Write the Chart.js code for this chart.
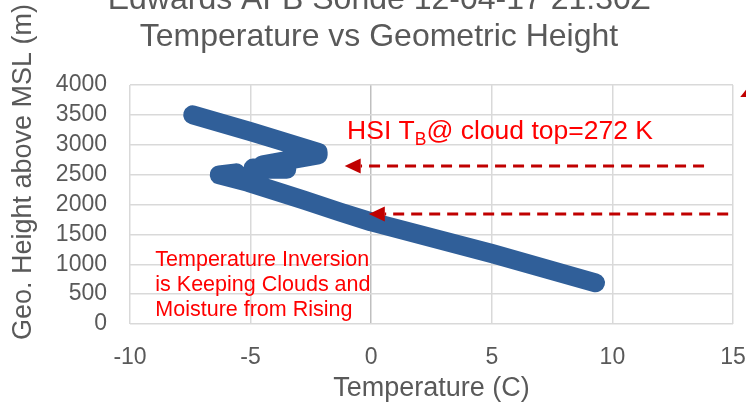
<!DOCTYPE html>
<html>
<head>
<meta charset="utf-8">
<title>Edwards AFB Sonde – Temperature vs Geometric Height</title>
<script src="https://cdn.jsdelivr.net/npm/chart.js@4/dist/chart.umd.min.js"></script>
<style>
  html, body { margin: 0; padding: 0; background: #ffffff; }
  #wrap { width: 746px; height: 403px; position: relative; }
</style>
</head>
<body>
<div id="wrap"><canvas id="sonde" width="746" height="403"></canvas></div>
<script>
// Sounding profile (temperature in C, geometric height in m MSL), ground upward.
// null marks the short break in the record inside the inversion layer.
const temperatureC = [9.3, 5.0, 0.0, -1.3, -2.8, -5.1, -6.3, -5.6, null,
                      -4.9, -4.2, -3.5, -4.5, -3.3, -2.6, -2.2, -2.2, -5.0, -7.4];
const heightM      = [690, 1180, 1710, 1875, 2075, 2370, 2495, 2530, null,
                      2610, 2590, 2590, 2665, 2750, 2800, 2830, 2875, 3220, 3500];

// Axis ticks
const xTicks = [-10, -5, 0, 5, 10, 15];
const yTicks = [0, 500, 1000, 1500, 2000, 2500, 3000, 3500, 4000];

// Dashed call-out arrows: tail temperature, head temperature, height
const arrowFromC   = [13.8, 14.8];
const arrowToC     = [-1.1, -0.1];
const arrowHeightM = [2645, 1840];

const FONT = '"Liberation Sans", Arial, Helvetica, sans-serif';
const GREY = '#595959';

const points = temperatureC.map((t, i) => (t === null ? { x: null, y: null } : { x: t, y: heightM[i] }));

const annotations = {
  id: 'annotations',
  beforeDraw(chart) {
    const { ctx } = chart;
    ctx.save();
    ctx.fillStyle = '#ffffff';
    ctx.fillRect(0, 0, chart.width, chart.height);
    ctx.restore();
  },
  afterDatasetsDraw(chart) {
    const { ctx, scales: { x, y } } = chart;
    ctx.save();

    // dashed arrows pointing at the inversion
    ctx.strokeStyle = '#C00000';
    ctx.fillStyle = '#C00000';
    ctx.lineWidth = 3;
    for (let i = 0; i < arrowFromC.length; i++) {
      const x0 = x.getPixelForValue(arrowFromC[i]);
      const x1 = x.getPixelForValue(arrowToC[i]);
      const yy = y.getPixelForValue(arrowHeightM[i]);
      ctx.setLineDash([11, 7]);
      ctx.beginPath();
      ctx.moveTo(x0, yy);
      ctx.lineTo(x1 + 16, yy);
      ctx.stroke();
      ctx.setLineDash([]);
      ctx.beginPath();
      ctx.moveTo(x1, yy);
      ctx.lineTo(x1 + 16, yy - 7.5);
      ctx.lineTo(x1 + 16, yy + 7.5);
      ctx.closePath();
      ctx.fill();
    }

    // arrow head at the upper right corner
    ctx.beginPath();
    ctx.moveTo(x.getPixelForValue(15.3), y.getPixelForValue(3800));
    ctx.lineTo(x.getPixelForValue(15.9), y.getPixelForValue(3800));
    ctx.lineTo(x.getPixelForValue(15.75), y.getPixelForValue(4030));
    ctx.closePath();
    ctx.fill();

    // brightness temperature label
    ctx.fillStyle = '#FF0000';
    ctx.textBaseline = 'alphabetic';
    ctx.textAlign = 'left';
    let tx = x.getPixelForValue(-1.0);
    const ty = y.getPixelForValue(3095);
    ctx.font = '26.5px ' + FONT;
    ctx.fillText('HSI T', tx, ty);
    tx += ctx.measureText('HSI T').width;
    ctx.font = '17.5px ' + FONT;
    ctx.fillText('B', tx, ty + 6);
    tx += ctx.measureText('B').width;
    ctx.font = '26.5px ' + FONT;
    ctx.fillText('@ cloud top=272 K', tx, ty);

    // inversion note
    ctx.font = '21.5px ' + FONT;
    const lx = x.getPixelForValue(-8.95);
    const ly = y.getPixelForValue(975);
    ['Temperature Inversion', 'is Keeping Clouds and', 'Moisture from Rising']
      .forEach((s, k) => ctx.fillText(s, lx, ly + k * 25));
    ctx.restore();
  },
  afterDraw(chart) {
    const { ctx, chartArea } = chart;
    ctx.save();
    ctx.fillStyle = GREY;
    ctx.textAlign = 'center';
    ctx.textBaseline = 'alphabetic';

    // chart title (two lines)
    ctx.font = '32px ' + FONT;
    ctx.fillText('Edwards AFB Sonde 12-04-17 21:30Z', 379, 9);
    ctx.fillText('Temperature vs Geometric Height', 379, 46);

    // x axis title
    ctx.font = '27px ' + FONT;
    ctx.fillText('Temperature (C)', (chartArea.left + chartArea.right) / 2, 396);

    // y axis title
    ctx.translate(31, 172);
    ctx.rotate(-Math.PI / 2);
    ctx.fillText('Geo. Height above MSL (m)', 0, 0);
    ctx.restore();
  }
};

new Chart(document.getElementById('sonde'), {
  type: 'scatter',
  data: {
    datasets: [{
      label: 'Sonde',
      data: points,
      showLine: true,
      spanGaps: false,
      borderColor: '#305f99',
      backgroundColor: '#305f99',
      borderWidth: 19,
      borderCapStyle: 'round',
      borderJoinStyle: 'round',
      pointRadius: 0,
      pointHoverRadius: 0,
      tension: 0
    }]
  },
  options: {
    responsive: false,
    devicePixelRatio: 1,
    animation: false,
    events: [],
    layout: { padding: { top: 85, right: 13, left: 0, bottom: 0 } },
    plugins: {
      legend: { display: false },
      title: { display: false },
      tooltip: { enabled: false }
    },
    scales: {
      x: {
        type: 'linear',
        min: -10,
        max: 15,
        afterBuildTicks: (s) => { s.ticks = xTicks.map(v => ({ value: v })); },
        afterFit: (s) => { s.height = 79; s.paddingLeft = 0; s.paddingRight = 0; },
        ticks: {
          color: GREY,
          font: { family: FONT, size: 23 },
          padding: 20,
          maxRotation: 0,
          autoSkip: false,
          callback: (v) => String(v)
        },
        grid: {
          color: (c) => (c.tick && c.tick.value === 0 ? '#bfbfbf' : '#d9d9d9'),
          lineWidth: 1.5,
          drawTicks: false
        },
        border: { display: false }
      },
      y: {
        type: 'linear',
        min: 0,
        max: 4000,
        afterBuildTicks: (s) => { s.ticks = yTicks.map(v => ({ value: v })); },
        afterFit: (s) => { s.width = 130; },
        ticks: {
          color: GREY,
          font: { family: FONT, size: 23 },
          padding: 23,
          autoSkip: false,
          callback: (v) => String(v)
        },
        grid: {
          color: '#d9d9d9',
          lineWidth: 1.5,
          drawTicks: false
        },
        border: { display: false }
      }
    }
  },
  plugins: [annotations]
});
</script>
</body>
</html>
